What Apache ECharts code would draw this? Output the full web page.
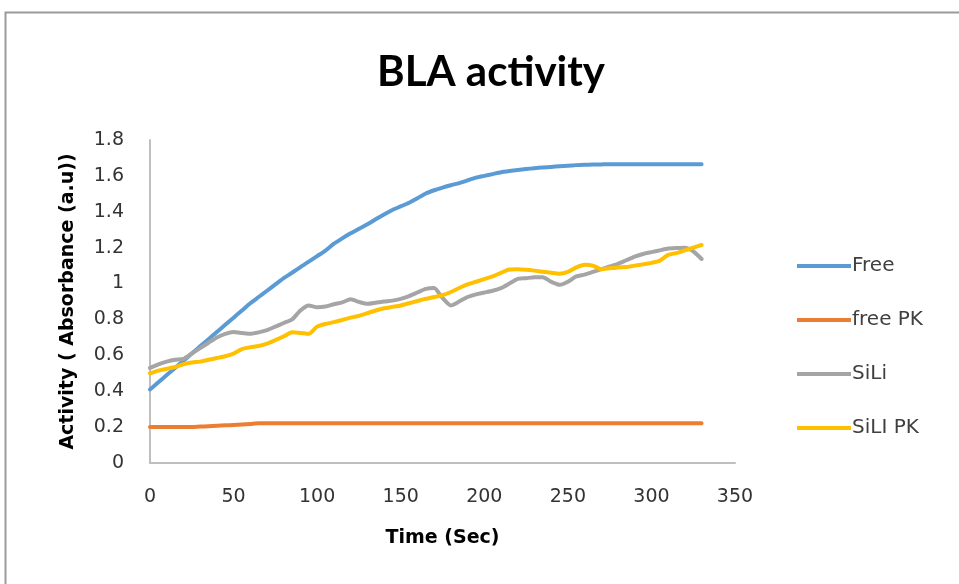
<!DOCTYPE html>
<html>
<head>
<meta charset="utf-8">
<script src="https://cdn.jsdelivr.net/npm/echarts@6/dist/echarts.min.js"></script>
<style>
html,body{margin:0;padding:0;background:#fff;}
#chart{width:959px;height:584px;}
</style>
</head>
<body>
<div id="chart"></div>
<script>
// Time in seconds (x values)
const timeSec = [0,5,10,15,20,25,30,35,40,45,50,55,60,65,70,75,80,85,90,95,100,105,110,115,120,125,130,135,140,145,150,155,160,165,170,175,180,185,190,195,200,205,210,215,220,225,230,235,240,245,250,255,260,265,270,275,280,285,290,295,300,305,310,315,320,325,330];

const seriesNames = ['Free', 'free PK', 'SiLi', 'SiLI PK'];

const freeVals = [0.41,0.45,0.49,0.53,0.57,0.61,0.65,0.69,0.73,0.77,0.81,0.85,0.89,0.925,0.96,0.995,1.03,1.06,1.092,1.122,1.153,1.184,1.222,1.252,1.28,1.305,1.33,1.358,1.385,1.41,1.43,1.45,1.475,1.502,1.52,1.535,1.548,1.56,1.575,1.59,1.60,1.61,1.62,1.627,1.633,1.638,1.643,1.647,1.65,1.654,1.657,1.66,1.662,1.663,1.664,1.665,1.665,1.665,1.665,1.665,1.665,1.665,1.665,1.665,1.665,1.665,1.665];

const freePKVals = [0.20,0.20,0.20,0.20,0.20,0.20,0.203,0.205,0.207,0.21,0.212,0.215,0.218,0.222,0.222,0.222,0.222,0.222,0.222,0.222,0.222,0.222,0.222,0.222,0.222,0.222,0.222,0.222,0.222,0.222,0.222,0.222,0.222,0.222,0.222,0.222,0.222,0.222,0.222,0.222,0.222,0.222,0.222,0.222,0.222,0.222,0.222,0.222,0.222,0.222,0.222,0.222,0.222,0.222,0.222,0.222,0.222,0.222,0.222,0.222,0.222,0.222,0.222,0.222,0.222,0.222,0.222];

const siliVals = [0.53,0.55,0.565,0.575,0.58,0.61,0.64,0.67,0.70,0.72,0.73,0.725,0.72,0.728,0.74,0.76,0.78,0.80,0.85,0.878,0.868,0.872,0.885,0.895,0.912,0.898,0.887,0.893,0.90,0.905,0.915,0.93,0.95,0.97,0.975,0.92,0.878,0.90,0.925,0.94,0.95,0.96,0.975,1.00,1.026,1.03,1.035,1.035,1.01,0.993,1.01,1.04,1.05,1.065,1.08,1.095,1.11,1.13,1.15,1.165,1.175,1.185,1.195,1.198,1.20,1.18,1.137];

const siliPKVals = [0.50,0.515,0.525,0.535,0.55,0.56,0.565,0.575,0.585,0.595,0.61,0.635,0.645,0.652,0.665,0.685,0.706,0.728,0.725,0.72,0.76,0.775,0.785,0.797,0.81,0.82,0.835,0.85,0.862,0.87,0.878,0.89,0.903,0.915,0.925,0.935,0.953,0.975,0.995,1.01,1.025,1.04,1.06,1.078,1.08,1.077,1.072,1.066,1.06,1.055,1.065,1.09,1.105,1.10,1.08,1.085,1.09,1.092,1.10,1.107,1.115,1.128,1.16,1.17,1.185,1.20,1.215];

const xTicks = [0,50,100,150,200,250,300,350];
const yTicks = [0,0.2,0.4,0.6,0.8,1,1.2,1.4,1.6,1.8];

const colors = ['#5B9BD5', '#ED7D31', '#A5A5A5', '#FFC000'];
const allVals = [freeVals, freePKVals, siliVals, siliPKVals];

const TITLE_FONT = 'Lato, "Open Sans", sans-serif';
const FONT = '"DejaVu Sans", "Noto Sans", sans-serif';

const chart = echarts.init(document.getElementById('chart'), null, {renderer: 'canvas'});

const series = seriesNames.map((name, i) => ({
  name: name,
  type: 'line',
  data: timeSec.map((t, k) => [t, allVals[i][k]]),
  showSymbol: false,
  symbol: 'none',
  smooth: 0.2,
  lineStyle: {color: colors[i], width: 4, cap: 'round', join: 'round'},
  itemStyle: {color: colors[i]},
  z: 2 + i
}));

chart.setOption({
  animation: false,
  backgroundColor: '#ffffff',
  graphic: [
    {type: 'rect', shape: {x: 5.5, y: 12.5, width: 1100, height: 800},
     style: {fill: 'none', stroke: '#9a9a9a', lineWidth: 2}, silent: true}
  ],
  title: {
    text: 'BLA activity',
    left: 486,
    top: 46,
    textAlign: 'center',
    textStyle: {fontFamily: TITLE_FONT, fontWeight: 'bold', fontSize: 42, color: '#000000'}
  },
  grid: {left: 150, top: 140, right: 224, bottom: 121, containLabel: false},
  legend: {
    orient: 'vertical',
    left: 797,
    top: 256,
    padding: 0,
    icon: 'rect',
    itemWidth: 54,
    itemHeight: 4,
    itemGap: 34,
    data: seriesNames,
    textStyle: {fontFamily: FONT, fontSize: 20, color: '#404040', padding: [0,0,0,-4]}
  },
  xAxis: {
    type: 'value',
    min: 0, max: 350, interval: 50,
    name: 'Time (Sec)',
    nameLocation: 'middle',
    nameGap: 66,
    nameTextStyle: {fontFamily: FONT, fontWeight: 'bold', fontSize: 19, color: '#000000'},
    axisLine: {show: true, lineStyle: {color: '#bfbfbf', width: 2}},
    axisTick: {show: false},
    splitLine: {show: false},
    axisLabel: {fontFamily: FONT, fontSize: 19, color: '#333333', margin: 25,
      customValues: xTicks}
  },
  yAxis: {
    type: 'value',
    min: 0, max: 1.8, interval: 0.2,
    name: 'Activity ( Absorbance (a.u))',
    nameLocation: 'middle',
    nameGap: 72,
    nameRotate: 90,
    nameTextStyle: {fontFamily: FONT, fontWeight: 'bold', fontSize: 19, color: '#000000'},
    axisLine: {show: true, lineStyle: {color: '#bfbfbf', width: 2}},
    axisTick: {show: false},
    splitLine: {show: false},
    axisLabel: {fontFamily: FONT, fontSize: 19, color: '#333333', margin: 26,
      customValues: yTicks,
      formatter: v => String(+v.toFixed(1))}
  },
  series: series
});
</script>
</body>
</html>
